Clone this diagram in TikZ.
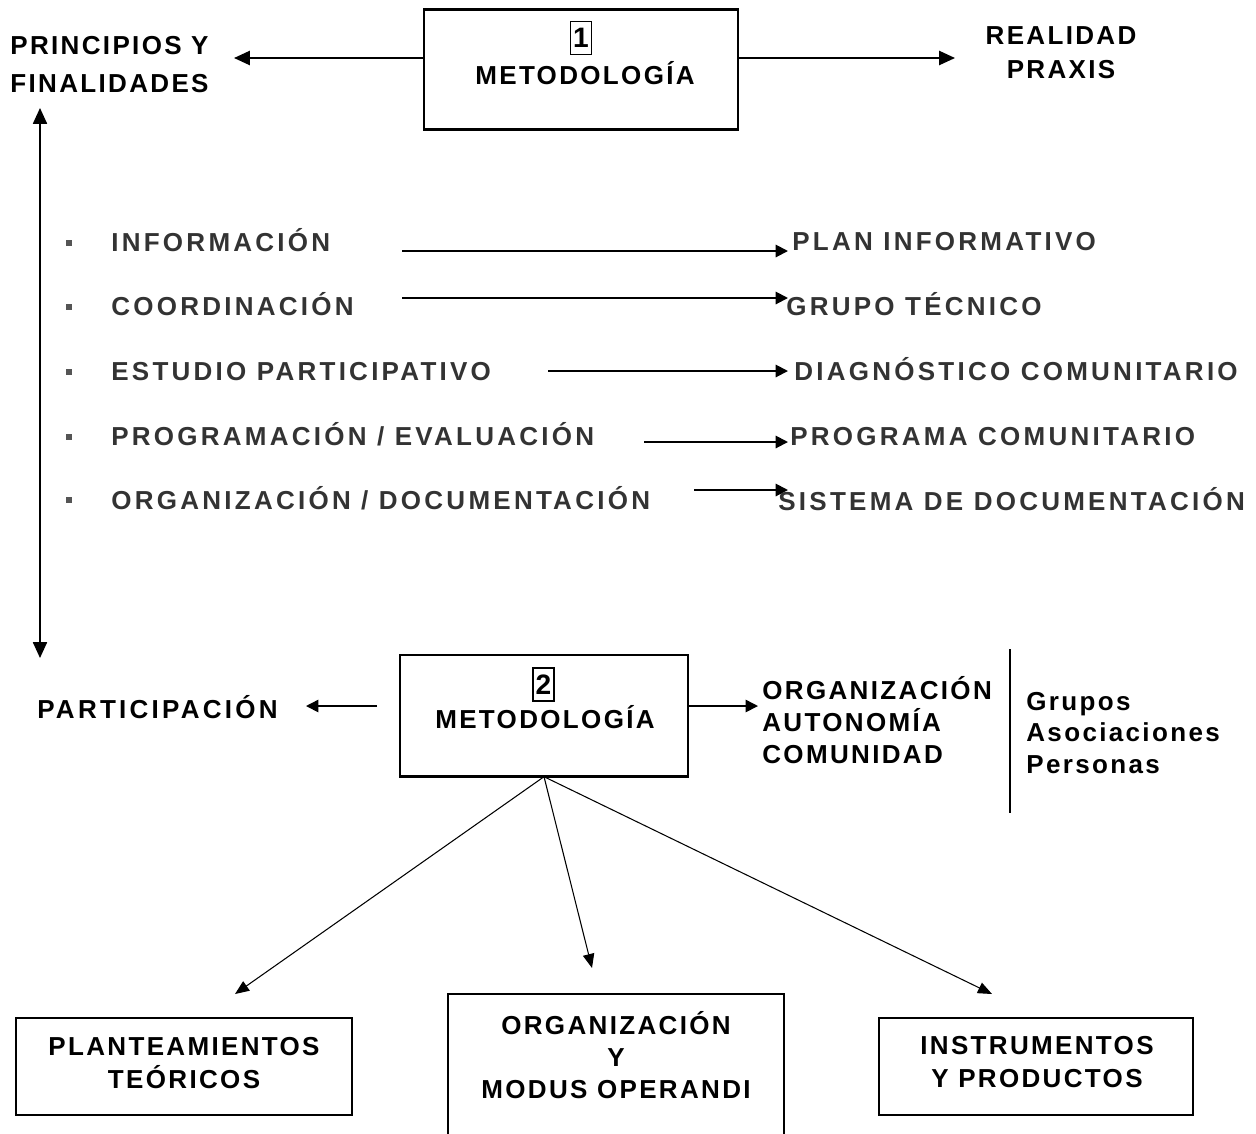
\documentclass[tikz,border=0pt]{standalone}
\usepackage{fontspec}
\setmainfont{Liberation Sans}[LetterSpace=9]
\usepackage{xcolor}
\usepackage{tikz}
\usetikzlibrary{arrows.meta}
\definecolor{ink}{HTML}{000000}
\definecolor{listtext}{HTML}{333333}
\definecolor{bullet}{HTML}{555555}
\tikzset{
  frame/.style={draw=ink, line width=1.4pt, inner sep=0pt},
  thinframe/.style={draw=ink, line width=0.8pt, inner sep=0pt},
  numbox/.style={draw=ink, line width=0.6pt, inner sep=0pt, minimum width=0.42cm, minimum height=0.66cm, font=\fontsize{16}{18}\selectfont\bfseries},
  big/.style={draw=ink, line width=1.1pt, -{Triangle[length=9pt,width=8pt]}},
  arr/.style={draw=ink, line width=1.1pt, -{Triangle[length=7pt,width=7pt]}},
  thin/.style={draw=ink, line width=0.6pt, -{Triangle[length=8pt,width=6.5pt]}},
  lab/.style={text=ink, inner sep=0pt, font=\fontsize{14.8}{18.4}\selectfont\bfseries},
  labw/.style={lab, font=\fontsize{14.8}{18.4}\selectfont\bfseries\addfontfeature{LetterSpace=12.5}},
  labl/.style={labw, text=listtext},
  sq/.style={fill=bullet, inner sep=0pt, minimum size=0.13cm},
}

\begin{document}
\begin{tikzpicture}[x=0.02cm, y=-0.02cm]
  \useasboundingbox (0,0) rectangle (1256,1133);
  \clip (0,0) rectangle (1256,1133);

  % upper block
  \node[frame, minimum width=6.28cm, minimum height=2.40cm] (m1) at (581,69.5) {};
  \node[numbox] (n1) at (581,38) {1};
  \node[lab, anchor=base] (t1) at (585,84) {METODOLOGÍA};
  \node[lab, anchor=west, align=left, font=\fontsize{14.8}{22.1}\selectfont\bfseries] (prin) at (10,64.5) {PRINCIPIOS Y\\FINALIDADES};
  \node[lab, align=center, font=\fontsize{14.8}{19.3}\selectfont\bfseries] (real) at (1061,53) {REALIDAD\\PRAXIS};
  \coordinate (pl) at (234,58);
  \coordinate (pr) at (955,58);
  \draw[big] (m1.west |- pl) -- (pl);
  \draw[big] (m1.east |- pr) -- (pr);

  \coordinate (vt) at (40,108);
  \coordinate (vb) at (40,658);
  \draw[draw=ink, line width=0.9pt, {Triangle[length=9pt,width=8pt]}-{Triangle[length=9pt,width=8pt]}] (vt) -- (vb);

  % list
  \foreach \y/\name in {243/a, 307/b, 372/c, 437/d, 500/e}
    \node[sq] (sq\name) at (69,\y) {};
  \node[labl, anchor=base west] (ia) at (111,251) {INFORMACIÓN};
  \node[labl, anchor=base west] (ib) at (111,315) {COORDINACIÓN};
  \node[labl, anchor=base west] (ic) at (111,380) {ESTUDIO PARTICIPATIVO};
  \node[labl, anchor=base west] (id) at (111,445) {PROGRAMACIÓN / EVALUACIÓN};
  \node[labl, anchor=base west] (ie) at (111,509) {ORGANIZACIÓN / DOCUMENTACIÓN};
  \node[labl, anchor=base west] (ra) at (792,250) {PLAN INFORMATIVO};
  \node[labl, anchor=base west] (rb) at (786,315) {GRUPO TÉCNICO};
  \node[labl, anchor=base west] (rc) at (794,380) {DIAGNÓSTICO COMUNITARIO};
  \node[labl, anchor=base west] (rd) at (790,445) {PROGRAMA COMUNITARIO};
  \node[labl, anchor=base west] (re) at (778,510) {SISTEMA DE DOCUMENTACIÓN};
  \foreach \xs/\y/\name in {402/251/a, 402/298/b, 548/371/c, 644/442/d, 694/490/e} {
    \coordinate (s\name) at (\xs,\y);
    \coordinate (e\name) at (788,\y);
    \draw[arr] (s\name) -- (e\name);
  }

  % lower block
  \node[thinframe, minimum width=5.76cm, minimum height=2.42cm] (m2) at (544,715.5) {};
  \draw[draw=ink, line width=1.4pt] (m2.south west) -- (m2.south east);
  \node[numbox] (n2) at (543.5,684.5) {2};
  \node[lab, anchor=base] (t2) at (545,728) {METODOLOGÍA};
  \node[labw, anchor=base west] (part) at (37,718) {PARTICIPACIÓN};
  \coordinate (qs) at (377,706);
  \coordinate (ql) at (306,706);
  \coordinate (qr) at (758,706);
  \draw[arr, line width=0.9pt] (qs) -- (ql);
  \draw[arr, line width=0.9pt] (m2.east |- qr) -- (qr);
  \node[lab, anchor=west, align=left] (org) at (762,720) {ORGANIZACIÓN\\AUTONOMÍA\\COMUNIDAD};
  \coordinate (lt) at (1010,649);
  \coordinate (lb) at (1010,813);
  \draw[draw=ink, line width=0.9pt] (lt) -- (lb);
  \node[lab, anchor=west, align=left, font=\fontsize{14.8}{18.1}\selectfont\bfseries] (grp) at (1026,733) {Grupos\\Asociaciones\\Personas};

  % boxes below
  \node[frame, minimum width=6.72cm, minimum height=1.94cm] (b1) at (184,1066.5) {};
  \node[lab, align=center] (b1t) at (184,1063) {PLANTEAMIENTOS\\TEÓRICOS};
  \node[frame, minimum width=6.72cm, minimum height=3.04cm] (b2) at (616,1070) {};
  \node[lab, align=center] (b2t) at (616,1055) {ORGANIZACIÓN\\Y\\MODUS OPERANDI};
  \node[frame, minimum width=6.28cm, minimum height=1.94cm] (b3) at (1036,1066.5) {};
  \node[lab, align=center] (b3t) at (1037,1062) {INSTRUMENTOS\\Y PRODUCTOS};
  \coordinate (da) at (235,994);
  \coordinate (db) at (592,968);
  \coordinate (dc) at (992,994);
  \draw[thin] (m2.south) -- (da);
  \draw[thin] (m2.south) -- (db);
  \draw[thin] (m2.south) -- (dc);
\end{tikzpicture}
\end{document}
